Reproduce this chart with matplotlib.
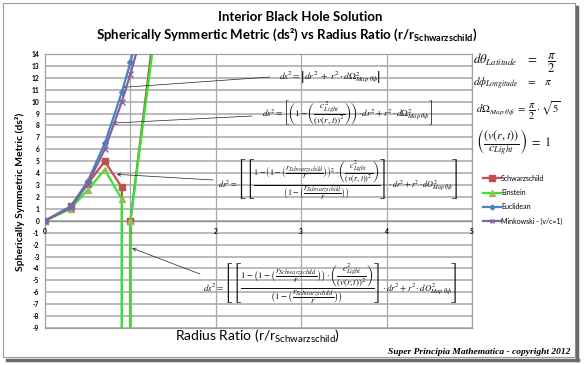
import matplotlib
matplotlib.use("Agg")
import matplotlib.pyplot as plt
from matplotlib.patches import Rectangle
from matplotlib.lines import Line2D

# radius ratio r / r_schwarzschild
r_flat = [0, 0.3, 0.5, 0.7, 0.9, 1.0, 1.1]
euclidean = [0, 1.2, 3.3, 6.5, 10.8, 13.3, 16.1]
minkowski = [0, 1.1, 3.1, 6.0, 10.0, 12.3, 14.9]

# the curved metrics blow up just below r = r_s
r_curved = [0, 0.3, 0.5, 0.7, 0.9, 0.9999, 1.0, 1.5]
schwarzschild = [0, 1.2, 3.1, 5.0, 2.8, -1e5, 0.0, 29.0]
einstein = [0, 1.0, 2.6, 4.3, 1.8, -1e5, 0.0, 27.5]

x_ticks = [0, 1, 2, 3, 4, 5]
y_ticks = list(range(-9, 15))

W, H = 584, 365


def px(x, y):
    # pixel position -> figure fraction
    return x / W, 1 - y / H


fig = plt.figure(figsize=(W / 100, H / 100), dpi=100)
ax = fig.add_axes([45 / W, 1 - 328 / H, 427 / W, 274 / H])

ax.set_xlim(0, 5)
ax.set_ylim(-9, 14)

for y in y_ticks:
    ax.axhline(y, color="#b4b4b4", lw=1.3, zorder=0)
for x in x_ticks[1:]:
    ax.axvline(x, color="#a8a8a8", lw=0.9, zorder=0)
ax.axhline(0, color="#909090", lw=1.0, zorder=0)

for s in ax.spines.values():
    s.set_color("#a0a0a0")
    s.set_linewidth(0.9)

ax.set_xticks(x_ticks)
ax.set_xticklabels([])
ax.tick_params(axis="x", length=0)
ax.set_yticks(y_ticks)
ax.set_yticklabels([str(v) for v in y_ticks], fontsize=4.8, fontweight="bold",
                   family="Lato")
ax.tick_params(axis="y", length=0, pad=4)

for x in x_ticks:
    ax.annotate(str(x), (x, 0), xytext=(0, -7.5), textcoords="offset points",
                ha="center", va="center", fontsize=4.8, fontweight="bold",
                family="Lato")

ax.plot(r_curved, schwarzschild, color="#C0504D", lw=1.6, marker="s",
        ms=4.5, mfc="#C0504D", mec="#C0504D", zorder=3)
ax.plot(r_curved, einstein, color="#2ee82e", lw=1.6, marker="^",
        ms=4.5, mfc="#9BBB59", mec="#9BBB59", zorder=3)
ax.plot(r_flat, euclidean, color="#4F81BD", lw=1.6, marker="D",
        ms=3, mfc="#4F81BD", mec="#4F81BD", zorder=4)
ax.plot(r_flat, minkowski, color="#8064A2", lw=1.6, marker="x",
        ms=4, mew=1, zorder=5)

# titles and axis labels
fig.text(*px(300, 17), "Interior Black Hole Solution", ha="center", va="center",
         fontsize=9.5, fontweight="bold", family="Lato")
fig.text(*px(287, 35),
         r"Spherically Symmertic Metric (ds²) vs Radius Ratio (r/r$_{\mathregular{Schwarzschild}}$)",
         ha="center", va="center", fontsize=9.5, fontweight="bold", family="Lato")
fig.text(*px(20, 192), "Spherically Symmetric Metric (ds²)", rotation=90,
         ha="center", va="center", fontsize=7.5, fontweight="bold", family="Lato")
fig.text(*px(258, 336), r"Radius Ratio (r/r$_{\mathregular{Schwarzschild}}$)",
         ha="center", va="center", fontsize=10, family="Lato")
fig.text(*px(570, 352), "Super Principia Mathematica - copyright 2012",
         ha="right", va="center", fontsize=6.8, fontweight="bold",
         style="italic", family="Liberation Serif")

# metric equations
RS = r"\left(\dfrac{r_{Schwarzschild}}{r}\right)"
CV = r"\left(\dfrac{c^2_{Light}}{(v(r,t))^2}\right)"
TAIL = r"\cdot dr^2+r^2\cdot dO^2_{Map\ \theta\phi}\right]$"

eq1 = r"$ds^2=\left|dr^2\ +\ r^2\cdot d\Omega^2_{Map\ \theta\phi}\right|$"
eq2 = (r"$ds^2=\left[\left(1-" + CV + r"\right)"
       r"\cdot dr^2+r^2\cdot d\Omega^2_{Map\ \theta\phi}\right]$")
# a few spellings of the squared term; the one mathtext lays out largest wins
eq3_options = [
    r"$ds^2=\left[\left[\dfrac{1-\left(1-" + RS + r"\right)^{2}\cdot" + CV + r"}"
    r"{\left(1-" + RS + r"\right)}\right]" + TAIL,
    r"$ds^2=\left[\left[\dfrac{{\left(1-\left(1-" + RS + r"\right)^{2}\cdot" + CV
    + r"\right.}}{\left(1-" + RS + r"\right)}\right]" + TAIL,
    r"$ds^2=\left[\left[\dfrac{1-\left(1-" + RS + r"\right)\cdot\left(1-" + RS
    + r"\right)\cdot" + CV + r"}{\left(1-" + RS + r"\right)}\right]" + TAIL,
]
eq4 = (r"$ds^2=\left[\left[\dfrac{1-\left(1-" + RS + r"\right)\cdot" + CV + r"}"
       r"{\left(1-" + RS + r"\right)}\right]" + TAIL)
eq_theta = r"$d\theta_{Latitude}\quad=\quad\dfrac{\pi}{2}$"
eq_phi = r"$d\phi_{Longitude}\quad=\quad\pi$"
eq_omega = r"$d\Omega_{Map\ \theta\phi}\ =\ \dfrac{\pi}{2}\cdot\sqrt{5}$"
eq_speed = r"$\left(\dfrac{(v(r,t))}{c_{Light}}\right)\ =\ 1$"

renderer = fig.canvas.get_renderer()


def place_formula(txt, x0, x1, yc):
    # scale the formula to its width in the reference, then place it
    t = fig.text(*px(x0, yc), txt, va="center", ha="left", fontsize=7,
                 math_fontfamily="stix", color="#111111")
    try:
        for _ in range(3):
            bb = t.get_window_extent(renderer)
            t.set_fontsize(t.get_fontsize() * (x1 - x0) / bb.width)
        bb = t.get_window_extent(renderer)
    except Exception:
        t.remove()
        return None
    fx, fy = t.get_position()
    t.set_position((fx + (x0 - bb.x0) / W,
                    fy + ((H - yc) - (bb.y0 + bb.y1) / 2) / H))
    return t, bb.height


# (text, left px, right px, centre y px)
equations = [
    (eq1, 279, 382, 77),
    (eq2, 262, 432, 113),
    (eq4, 203, 460, 283),
    (eq_theta, 473, 556, 63),
    (eq_phi, 473, 552, 84),
    (eq_omega, 476, 561, 111),
    (eq_speed, 476, 552, 143),
]
for txt, x0, x1, yc in equations:
    place_formula(txt, x0, x1, yc)

best = None
for txt in eq3_options:
    res = place_formula(txt, 218, 460, 179)
    if res is None:
        continue
    if best is None or res[1] > best[1] * 1.05:
        if best is not None:
            best[0].remove()
        best = res
    else:
        res[0].remove()

# arrows from equations to curves
arrows = [((270, 77), (0.91, 11.2)),
          ((252, 116), (0.795, 8.2)),
          ((213, 180), (0.84, 3.9)),
          ((200, 274), (1.02, -2.3))]
for (tx, ty), tip in arrows:
    ax.annotate("", xy=tip, xycoords="data", xytext=px(tx, ty),
                textcoords="figure fraction",
                arrowprops=dict(arrowstyle="->", color="#222222", lw=0.5,
                                shrinkA=0, shrinkB=0, mutation_scale=6))

# legend
handles = [
    Line2D([], [], color="#C0504D", lw=1.6, marker="s", ms=4, mfc="#C0504D", mec="#C0504D"),
    Line2D([], [], color="#2ee82e", lw=1.6, marker="^", ms=4, mfc="#9BBB59", mec="#9BBB59"),
    Line2D([], [], color="#4F81BD", lw=1.6, marker="D", ms=2.5),
    Line2D([], [], color="#8064A2", lw=1.6, marker="x", ms=3.5, mew=1),
]
labels = ["Schwarzschild", "Einstein", "Euclidean", "Minkowski - (v/c=1)"]
fig.legend(handles, labels, loc="upper left", bbox_to_anchor=px(480, 172),
           frameon=False, prop={"family": "Lato", "size": 5},
           handlelength=2.6, handletextpad=0.05, labelspacing=1.05,
           borderaxespad=0)

# chart frame with shadow
fig.add_artist(Rectangle(px(3, 357), 572 / W, 354 / H, transform=fig.transFigure,
                         fill=False, edgecolor="#9a9a9a", lw=0.8))
fig.add_artist(Line2D([577 / W, 577 / W], [1 - 360 / H, 1 - 7 / H],
                      transform=fig.transFigure, color="#6a6a6a", lw=2.5))
fig.add_artist(Line2D([7 / W, 578 / W], [1 - 359.5 / H, 1 - 359.5 / H],
                      transform=fig.transFigure, color="#6a6a6a", lw=2.5))

fig.savefig("out.png", dpi=100)
